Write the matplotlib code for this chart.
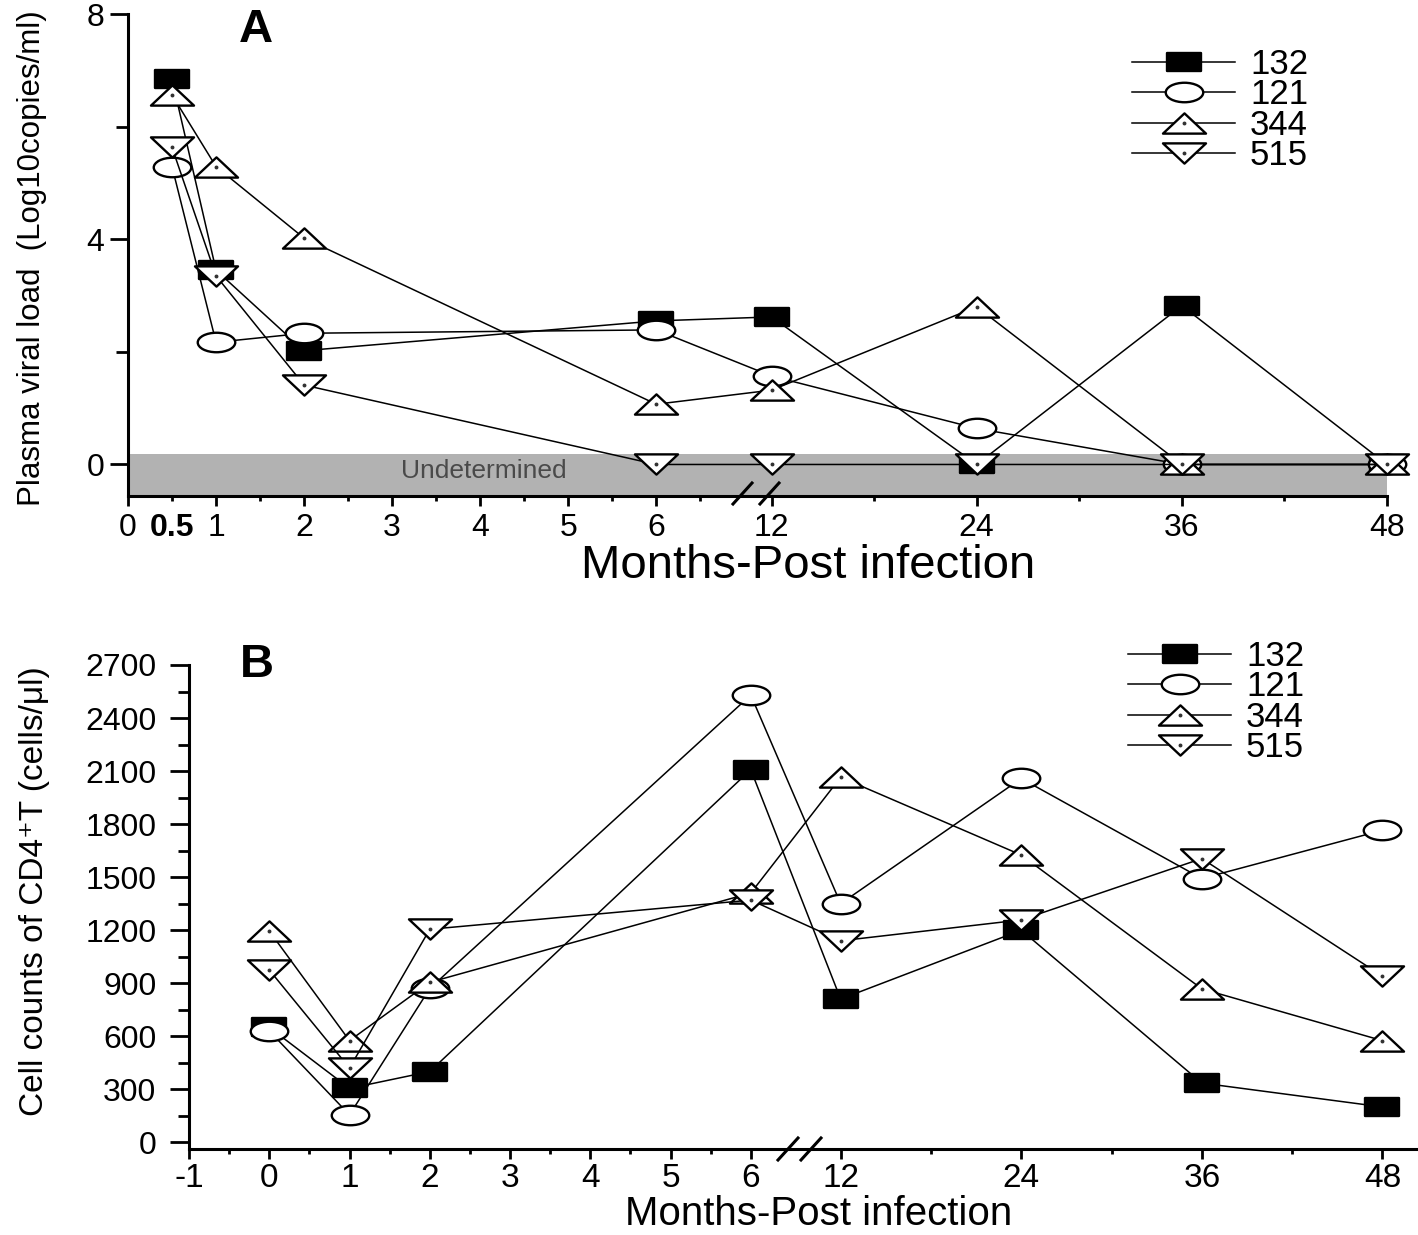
import numpy as np
import matplotlib
matplotlib.use('Agg')
import matplotlib.pyplot as plt
from matplotlib.path import Path
from matplotlib.transforms import Affine2D
from matplotlib.ticker import FixedLocator, FixedFormatter
from matplotlib.lines import Line2D

# ---------------- data ----------------
series_ids = ['132', '121', '344', '515']

months_A = [0.5, 1, 2, 6, 12, 24, 36, 48]
viral_132 = [6.84, 3.45, 2.02, 2.55, 2.62, 0.0, 2.82, 0.0]
viral_121 = [5.29, 2.17, 2.33, 2.39, 1.57, 0.64, 0.0, 0.0]
viral_344 = [6.56, 5.29, 4.02, 1.07, 1.32, 2.80, 0.0, 0.0]
viral_515 = [5.63, 3.35, 1.41, 0.0, 0.0, 0.0, 0.0, 0.0]

months_B = [0, 1, 2, 6, 12, 24, 36, 48]
cd4_132 = [650, 305, 400, 2108, 810, 1200, 335, 200]
cd4_121 = [630, 155, 870, 2530, 1350, 2058, 1492, 1765]
cd4_344 = [1195, 575, 905, 1410, 2065, 1625, 868, 575]
cd4_515 = [975, 420, 1205, 1370, 1140, 1258, 1605, 940]

xticks_A = [0, 0.5, 1, 2, 3, 4, 5, 6, 12, 24, 36, 48]
xticklabels_A = ['0', '0.5', '1', '2', '3', '4', '5', '6', '12', '24', '36', '48']
xminor_A = [1.5, 2.5, 3.5, 4.5, 5.5, 6.5, 18, 30, 42]
yticks_A = [0, 4, 8]
yminor_A = [2, 6]

xticks_B = [-1, 0, 1, 2, 3, 4, 5, 6, 12, 24, 36, 48]
xticklabels_B = ['-1', '0', '1', '2', '3', '4', '5', '6', '12', '24', '36', '48']
xminor_B = [-0.5, 0.5, 1.5, 2.5, 3.5, 4.5, 5.5, 18, 30, 42]
yticks_B = list(range(0, 2701, 300))
yminor_B = list(range(150, 2700, 300))

# ---------------- style ----------------
plt.rcParams['font.family'] = ['Liberation Sans', 'DejaVu Sans']

W, H = 1418, 1235
fig = plt.figure(figsize=(W / 100, H / 100), dpi=100)

def px_rect(l, t, r, b):
    return [l / W, 1 - b / H, (r - l) / W, (b - t) / H]

def broken_scale(month_knots, pos_knots):
    mk = np.asarray(month_knots, float)
    pk = np.asarray(pos_knots, float)
    def fwd(x):
        return np.interp(np.asarray(x, float), mk, pk)
    def inv(p):
        return np.interp(np.asarray(p, float), pk, mk)
    return fwd, inv

# custom wide markers
rect_m = Path([(-1, -0.55), (1, -0.55), (1, 0.55), (-1, 0.55), (-1, -0.55)],
              [Path.MOVETO, Path.LINETO, Path.LINETO, Path.LINETO, Path.CLOSEPOLY])
ell_m = Path.unit_circle().transformed(Affine2D().scale(1, 0.52))
tri_up = Path([(-1, -0.47), (1, -0.47), (0, 0.47), (-1, -0.47)],
              [Path.MOVETO, Path.LINETO, Path.LINETO, Path.CLOSEPOLY])
tri_dn = Path([(-1, 0.47), (1, 0.47), (0, -0.47), (-1, 0.47)],
              [Path.MOVETO, Path.LINETO, Path.LINETO, Path.CLOSEPOLY])

marker_specs = [
    dict(marker=rect_m, ms=24.5, mfc='black'),
    dict(marker=ell_m, ms=27, mfc='white'),
    dict(marker=tri_up, ms=31, mfc='white'),
    dict(marker=tri_dn, ms=31, mfc='white'),
]

def draw_series(ax, x, ys):
    handles = []
    for i, y in enumerate(ys):
        spec = marker_specs[i]
        ln, = ax.plot(x, y, color='black', lw=1.1, marker=spec['marker'],
                      ms=spec['ms'], mfc=spec['mfc'], mec='black', mew=1.7,
                      clip_on=False, zorder=3 + i)
        if i >= 2:
            dot, = ax.plot(x, y, ls='none', marker='o', ms=1.8, color='#333333',
                           clip_on=False, zorder=3 + i)
            handles.append((ln, dot))
        else:
            handles.append(ln)
    return handles

def style_axes(ax, ymaj_len, ymin_len, ypad, xpad, xfs, yfs):
    for s in ['top', 'right']:
        ax.spines[s].set_visible(False)
    for s in ['left', 'bottom']:
        ax.spines[s].set_linewidth(2.2)
    ax.tick_params(axis='y', which='major', length=ymaj_len, width=2, direction='out',
                   pad=ypad, labelsize=yfs)
    ax.tick_params(axis='y', which='minor', length=ymin_len, width=2, direction='out')
    ax.tick_params(axis='x', which='major', length=7, width=2, direction='out',
                   pad=xpad, labelsize=xfs)
    ax.tick_params(axis='x', which='minor', length=3.5, width=2, direction='out')

legend_kw = dict(bbox_transform=fig.transFigure, frameon=False, borderpad=0,
                 borderaxespad=0, handlelength=2.97, handletextpad=0.43,
                 labelspacing=-0.075, fontsize=25, loc='upper left')

# ---------------- Panel A ----------------
axA = fig.add_axes(px_rect(128, 14, 1387, 496))
fA, iA = broken_scale([-5, 7, 12, 60], [-5, 7, 7.31, 7.31 + 48 * 2.33 / 12])
axA.set_xscale('function', functions=(fA, iA))
axA.set_xlim(0, 48)
axA.set_ylim(-0.56, 8)
axA.axhspan(-0.56, 0.19, color='#b2b2b2', zorder=1, lw=0)
axA.text(0.283, 0.052, 'Undetermined', transform=axA.transAxes, ha='center',
         va='center', fontsize=19, color='#4a4a4a', zorder=2)

hA = draw_series(axA, months_A, [viral_132, viral_121, viral_344, viral_515])

axA.xaxis.set_major_locator(FixedLocator(xticks_A))
axA.xaxis.set_major_formatter(FixedFormatter(xticklabels_A))
axA.xaxis.set_minor_locator(FixedLocator(xminor_A))
axA.yaxis.set_major_locator(FixedLocator(yticks_A))
axA.yaxis.set_minor_locator(FixedLocator(yminor_A))
style_axes(axA, 13, 9, 4, 5, 23, 23)
tk = axA.xaxis.get_major_ticks()[1]
tk.tick1line.set_markersize(3.5)
for lab in axA.get_xticklabels():
    if lab.get_text() == '0.5':
        lab.set_fontweight('bold')

axA.set_xlabel('Months-Post infection', fontsize=34)
axA.xaxis.set_label_coords(0.54, -0.1)
axA.set_ylabel('Plasma viral load  (Log10copies/ml)', fontsize=22.5)
axA.yaxis.set_label_coords(-0.064, 0.494)

axA.legend(hA, series_ids, bbox_to_anchor=(1132 / W, 1 - 48 / H), **legend_kw)

# ---------------- Panel B ----------------
axB = fig.add_axes(px_rect(189, 665, 1417, 1149))
fB, iB = broken_scale([-5, 6, 12, 60], [-5, 6, 7.12, 7.12 + 48 * 2.25 / 12])
axB.set_xscale('function', functions=(fB, iB))
axB.set_xlim(-1, 50.3)
axB.set_ylim(-38, 2700)

hB = draw_series(axB, months_B, [cd4_132, cd4_121, cd4_344, cd4_515])

axB.xaxis.set_major_locator(FixedLocator(xticks_B))
axB.xaxis.set_major_formatter(FixedFormatter(xticklabels_B))
axB.xaxis.set_minor_locator(FixedLocator(xminor_B))
axB.yaxis.set_major_locator(FixedLocator(yticks_B))
axB.yaxis.set_minor_locator(FixedLocator(yminor_B))
style_axes(axB, 13.5, 8, 10, 3, 24, 23)

axB.set_xlabel('Months-Post infection', fontsize=29)
axB.xaxis.set_label_coords(0.513, -0.096)
axB.set_ylabel('Cell counts of CD4\u207aT (cells/\u03bcl)', fontsize=24)
axB.yaxis.set_label_coords(-0.113, 0.532)

axB.legend(hB, series_ids, bbox_to_anchor=(1128 / W, 1 - 640 / H), **legend_kw)

# ---------------- break marks & panel letters ----------------
def slash(x0, y0, x1, y1):
    fig.add_artist(Line2D([x0 / W, x1 / W], [1 - y0 / H, 1 - y1 / H],
                          transform=fig.transFigure, color='black', lw=2.2))

slash(733, 504, 752, 483)
slash(760, 504, 779, 483)
slash(778, 1160, 798, 1138)
slash(801, 1160, 821, 1138)

fig.text(256 / W, 1 - 30 / H, 'A', fontsize=34, fontweight='bold', ha='center', va='center')
fig.text(257 / W, 1 - 665 / H, 'B', fontsize=34, fontweight='bold', ha='center', va='center')

fig.savefig('out.png', dpi=100)
